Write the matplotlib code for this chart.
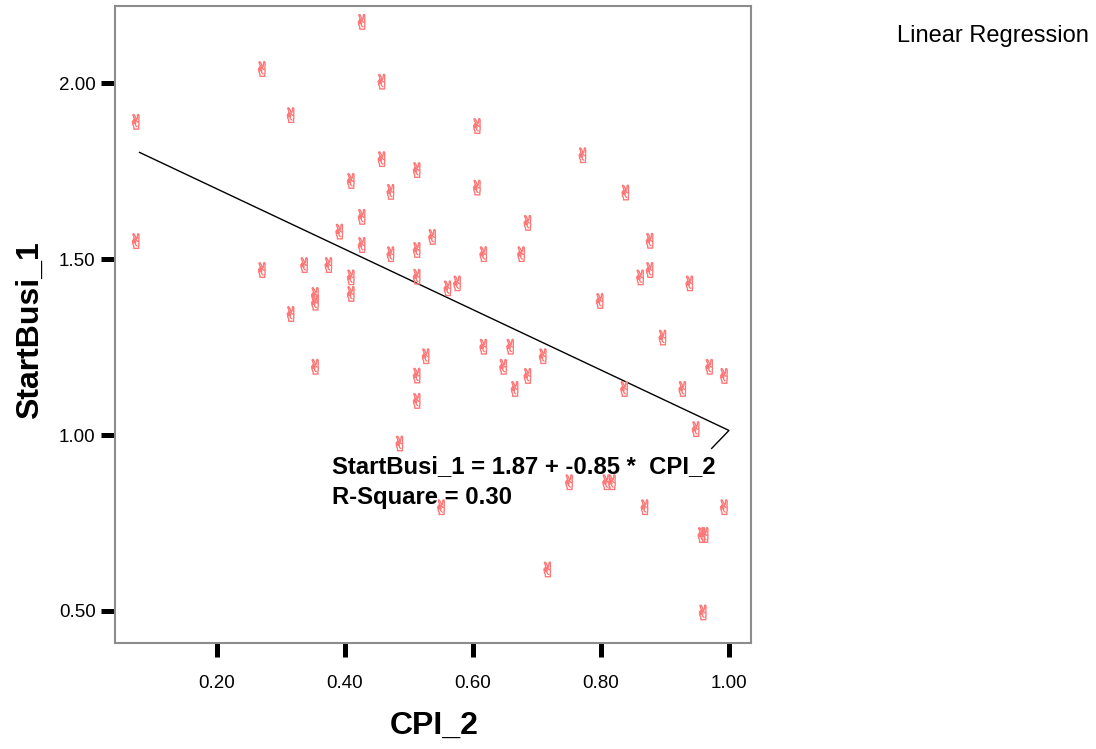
import numpy as np
import matplotlib.pyplot as plt

# data
cpi_2 = [0.426, 0.270, 0.457, 0.315, 0.073, 0.606, 0.771, 0.457, 0.512, 0.409,
         0.606, 0.471, 0.838, 0.426, 0.685, 0.391, 0.536, 0.876, 0.073, 0.426,
         0.512, 0.471, 0.616, 0.675, 0.336, 0.374, 0.270, 0.876, 0.512, 0.409,
         0.861, 0.575, 0.938, 0.560, 0.409, 0.353, 0.798, 0.353, 0.315, 0.896,
         0.616, 0.658, 0.526, 0.709, 0.353, 0.647, 0.969, 0.512, 0.685, 0.992,
         0.665, 0.836, 0.927, 0.512, 0.948, 0.485, 0.750, 0.808, 0.817, 0.550,
         0.868, 0.992, 0.957, 0.962, 0.716, 0.959]
start_busi_1 = [2.174, 2.040, 2.004, 1.909, 1.890, 1.878, 1.795, 1.784, 1.753, 1.722,
                1.703, 1.691, 1.689, 1.620, 1.603, 1.578, 1.563, 1.552, 1.551, 1.540,
                1.526, 1.514, 1.514, 1.514, 1.483, 1.483, 1.469, 1.469, 1.450, 1.448,
                1.448, 1.431, 1.431, 1.417, 1.401, 1.398, 1.381, 1.376, 1.344, 1.277,
                1.251, 1.251, 1.224, 1.224, 1.194, 1.194, 1.194, 1.169, 1.168, 1.168,
                1.131, 1.131, 1.131, 1.097, 1.017, 0.976, 0.866, 0.866, 0.866, 0.795,
                0.795, 0.795, 0.716, 0.716, 0.618, 0.496]

# fitted line as drawn (incl. the little tail at the right end)
line_x = [0.079, 1.0, 0.973]
line_y = [1.803, 1.013, 0.962]

x_ticks = [0.2, 0.4, 0.6, 0.8, 1.0]
y_ticks = [0.5, 1.0, 1.5, 2.0]

plt.rcParams['font.family'] = ['Liberation Sans', 'DejaVu Sans']

fig = plt.figure(figsize=(10.96, 7.49), dpi=100)
ax = fig.add_axes([0.1049, 0.1415, 0.5803, 0.8505])

ax.scatter(cpi_2, start_busi_1, marker='$✌$', s=120,
           facecolors='none', edgecolors='#ff7878', linewidths=0.5, zorder=3)
ax.plot(line_x, line_y, color='black', lw=1.0, zorder=2)

ax.set_xlim(0.0406, 1.0344)
ax.set_ylim(0.409, 2.219)
ax.set_xticks(x_ticks)
ax.set_xticklabels([f"{v:.2f}" for v in x_ticks])
ax.set_yticks(y_ticks)
ax.set_yticklabels([f"{v:.2f}" for v in y_ticks])
ax.tick_params(axis='both', direction='out', length=10, width=3.6,
               color='black', labelsize=13.5, pad=4)
ax.tick_params(axis='x', pad=13)

for sp in ax.spines.values():
    sp.set_color('#8c8c8c')
    sp.set_linewidth(1.5)

# axis titles placed in figure coords
fig.text(0.396, 0.0307, "CPI_2", fontsize=23, fontweight='bold',
         ha='center', va='center')
fig.text(0.0274, 0.5594, "StartBusi_1", fontsize=23, fontweight='bold',
         ha='center', va='center', rotation=90)

ax.text(0.2 + (332 - 217) / 640, 1.0 - (455 - 435) / 352,
        "StartBusi_1 = 1.87 + -0.85 *  CPI_2\nR-Square = 0.30",
        fontsize=17.2, fontweight='bold', va='top', ha='left', linespacing=1.45)

fig.text(0.9935, 0.952, "Linear Regression", fontsize=17, ha='right', va='center')

fig.savefig('out.png', dpi=100)
